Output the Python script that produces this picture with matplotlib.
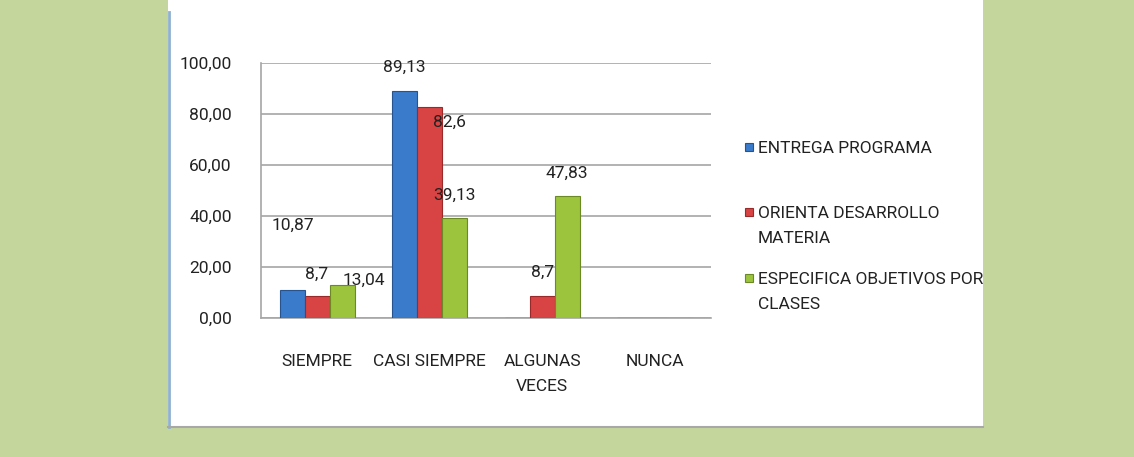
import matplotlib
matplotlib.use('Agg')
import numpy as np
from matplotlib import pyplot as plt
from matplotlib.patches import Rectangle
from matplotlib.lines import Line2D
from matplotlib.ticker import FuncFormatter

categories = ['SIEMPRE', 'CASI SIEMPRE', 'ALGUNAS\nVECES', 'NUNCA']
series = ['ENTREGA PROGRAMA', 'ORIENTA DESARROLLO\nMATERIA', 'ESPECIFICA OBJETIVOS POR\nCLASES']
entrega = [10.87, 89.13, 0, 0]
orienta = [8.7, 82.6, 8.7, 0]
especifica = [13.04, 39.13, 47.83, 0]
yticks = [0, 20, 40, 60, 80, 100]

colors = ['#3b7bcb', '#d84343', '#9cc43c']
edges = ['#27548f', '#9a2a2a', '#6b8a26']

# label offsets in pixels (dx, dy) from the top of each bar, default centred above
label_offsets = {
    (0, 0): (1, 65), (1, 0): (-1, 21), (2, 0): (22, 4),
    (1, 1): (20, -15),
}

W, H = 1134, 457
plt.rcParams['font.family'] = ['Roboto', 'DejaVu Sans']
fs = 12.5

fig = plt.figure(figsize=(W / 100, H / 100), dpi=100)
fig.patch.set_facecolor('#c4d69b')

# white panel
fig.add_artist(Rectangle((168 / W, 30 / H), (983 - 168) / W, 1 - 30 / H, transform=fig.transFigure,
                         facecolor='white', edgecolor='none', zorder=0))
fig.add_artist(Line2D([169 / W, 169 / W], [30 / H, 1 - 12 / H], transform=fig.transFigure,
                      color='#8fb0cf', lw=2))
fig.add_artist(Line2D([168 / W, 983 / W], [30 / H, 30 / H], transform=fig.transFigure,
                      color='#a8a8a8', lw=1.5))

ax = fig.add_axes([261 / W, (H - 318) / H, 450 / W, 255 / H])
ax.set_facecolor('none')
x = np.arange(len(categories))
bw = 0.222
data = [entrega, orienta, especifica]
for i, vals in enumerate(data):
    pos = x + (i - 1) * bw
    ax.bar(pos, vals, bw, color=colors[i], edgecolor=edges[i], linewidth=0.8, zorder=3)
    for j, v in enumerate(vals):
        if v == 0:
            continue
        dx, dy = label_offsets.get((i, j), (0, 23))
        ax.annotate(('%g' % v).replace('.', ','), (pos[j], v), xytext=(dx, dy),
                    textcoords='offset pixels', ha='center', va='center',
                    fontsize=fs, color='#222222', zorder=5, annotation_clip=False)

ax.set_xlim(-0.5, len(categories) - 0.5)
ax.set_ylim(0, 100)
ax.set_yticks(yticks)
ax.yaxis.set_major_formatter(FuncFormatter(lambda v, p: ('%.2f' % v).replace('.', ',')))
ax.set_xticks(x)
ax.set_xticklabels(categories, linespacing=1.85)
ax.tick_params(axis='x', length=0, pad=26, labelsize=fs, colors='#222222')
ax.tick_params(axis='y', length=0, pad=21, labelsize=fs, colors='#222222')
ax.grid(axis='y', color='#a6a6a6', lw=1.2, zorder=0)
for s in ['top', 'right']:
    ax.spines[s].set_visible(False)
for s in ['left', 'bottom']:
    ax.spines[s].set_color('#a6a6a6')
    ax.spines[s].set_linewidth(1.2)

# legend drawn by hand to keep Excel's spacing
legend_y = [147, 212, 278]
for i, name in enumerate(series):
    yy = legend_y[i]
    fig.add_artist(Rectangle((745 / W, 1 - (yy + 4) / H), 8 / W, 8 / H, transform=fig.transFigure,
                             facecolor=colors[i], edgecolor=edges[i], lw=0.8))
    fig.text(758 / W, 1 - (yy - 6) / H, name, ha='left', va='top', fontsize=fs,
             color='#222222', linespacing=1.85)

fig.savefig('out.png', dpi=100, facecolor=fig.get_facecolor())
